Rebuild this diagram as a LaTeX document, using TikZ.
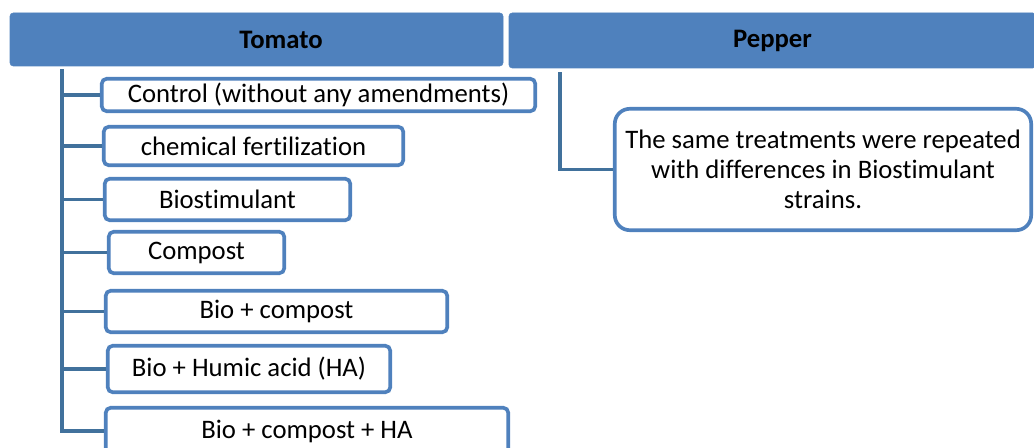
\documentclass[tikz,border=0pt]{standalone}
\usepackage{fontspec}
\setmainfont{Carlito}[Ligatures=NoCommon]
\usetikzlibrary{positioning}
\definecolor{HeadBlue}{HTML}{4F81BD}
\definecolor{LinkBlue}{HTML}{41719C}
\tikzset{
  header/.style={fill=HeadBlue, draw=HeadBlue, rounded corners=0.08cm, inner sep=0pt, font=\fontsize{19}{22}\selectfont\bfseries},
  treat/.style={draw=HeadBlue, line width=2.6pt, rounded corners=0.12cm, fill=white, inner sep=0pt, font=\fontsize{19}{21.2}\selectfont},
  link/.style={LinkBlue, line width=2.6pt}
}

\begin{document}
\begin{tikzpicture}
  \useasboundingbox (0,0) rectangle (25.85,11.2);
  % column headers
  \node[header, minimum width=12.325cm, minimum height=1.325cm] (tomato) at (6.4125,10.2125) {};
  \node[font=\fontsize{19}{22}\selectfont\bfseries] (tomatotxt) at (7.025,10.2125) {Tomato};
  \node[header, minimum width=13.175cm, minimum height=1.375cm] (pepper) at (19.3125,10.1875) {Pepper};
  % tomato treatments
  \node[treat, minimum width=10.835cm, minimum height=0.81cm] (ctrl) at (7.9625,8.825) {Control (without any amendments)};
  \node[treat, minimum width=7.485cm, minimum height=0.96cm] (chem) at (6.3375,7.55) {chemical fertilization};
  \node[treat, minimum width=6.135cm, minimum height=1.035cm] (bio) at (5.6875,6.2125) {Biostimulant};
  \node[treat, minimum width=4.385cm, minimum height=1.035cm] (comp) at (4.9125,4.8875) {Compost};
  \node[treat, minimum width=8.535cm, minimum height=1.035cm] (biocomp) at (6.9125,3.4125) {Bio + compost};
  \node[treat, minimum width=7.06cm, minimum height=1.16cm] (bioha) at (6.225,1.975) {Bio + Humic acid (HA)};
  \node[treat, minimum width=10.06cm, minimum height=1.16cm] (bioall) at (7.675,0.425) {Bio + compost + HA};
  % pepper note
  \node[treat, rounded corners=0.375cm, align=center, minimum width=10.41cm, minimum height=3.035cm] (same) at (20.575,6.9625)
    {The same treatments were repeated\\with differences in Biostimulant\\strains.};
  % trunks and branches
  \coordinate (ttop) at ([shift={(1.3cm,-0.075cm)}]tomato.south west);
  \foreach \n in {ctrl,chem,bio,comp,biocomp,bioha,bioall}
    \draw[link] (ttop) |- (\n.west);
  \coordinate (ptop) at ([shift={(1.275cm,-0.1cm)}]pepper.south west);
  \draw[link] (ptop) |- (same.west);
\end{tikzpicture}
\end{document}
